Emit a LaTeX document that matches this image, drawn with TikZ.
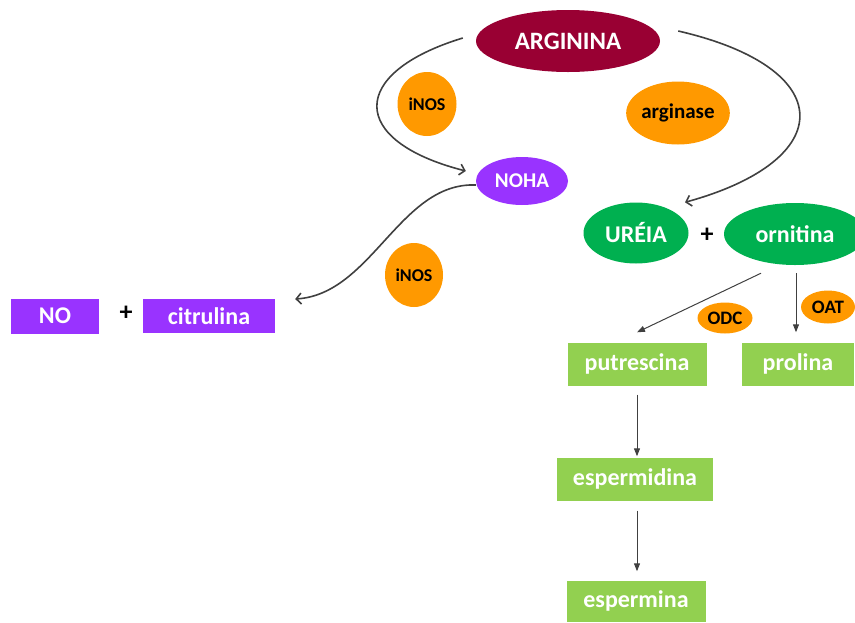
\documentclass[tikz,border=0pt]{standalone}
\usepackage{fontspec}
\setmainfont{Carlito}
\usetikzlibrary{shapes.geometric,arrows.meta}
\definecolor{vinho}{HTML}{990033}
\definecolor{laranja}{HTML}{FF9900}
\definecolor{roxo}{HTML}{9933FF}
\definecolor{verde}{HTML}{00B050}
\definecolor{verdeclaro}{HTML}{92D050}
\definecolor{cinza}{HTML}{404040}
\tikzset{
    metab/.style={ellipse, inner sep=0pt, text=white, font=\bfseries\fontsize{24}{28}\selectfont},
    caixa/.style={rectangle, inner sep=0pt, text=white, font=\bfseries\fontsize{24}{28}\selectfont},
    enzima/.style={ellipse, fill=laranja, inner sep=0pt, text=black, font=\bfseries\fontsize{18}{20}\selectfont},
    mais/.style={inner sep=0pt, font=\bfseries\fontsize{26}{28}\selectfont},
    curva/.style={draw=cinza, line width=1.6pt, -{Straight Barb[length=5pt,width=11pt]}},
    seta/.style={draw=cinza, line width=1pt, -{Triangle[length=8pt,width=6pt]}},
}
\begin{document}
\begin{tikzpicture}[x=1pt, y=-1pt]
        \useasboundingbox (0,0) rectangle (855,622);
        \node[metab, fill=vinho, minimum width=184pt, minimum height=62pt, font=\bfseries\fontsize{25}{28}\selectfont] (arg) at (568,41) {ARGININA};
        \node[enzima, minimum width=59pt, minimum height=64pt] (inos1) at (427,104) {iNOS};
        \node[enzima, minimum width=100pt, minimum height=63pt, font=\bfseries\fontsize{21}{24}\selectfont] (argase) at (678,113) {arginase};
        \node[metab, fill=roxo, minimum width=92pt, minimum height=48pt, font=\bfseries\fontsize{21}{24}\selectfont] (noha) at (522,181) {NOHA};
        \node[metab, fill=verde, minimum width=105pt, minimum height=61pt] (ure) at (636,233) {URÉIA};
        \node[mais] (mais1) at (707,235) {+};
        \node[metab, fill=verde, minimum width=142pt, minimum height=62pt] (orn) at (795,234) {ornitina};
        \node[enzima, minimum width=58pt, minimum height=64pt] (inos2) at (414,275) {iNOS};
        \node[caixa, fill=roxo, minimum width=88pt, minimum height=35pt] (no) at (55,316) {NO};
        \node[mais] (mais2) at (126,313) {+};
        \node[caixa, fill=roxo, minimum width=132pt, minimum height=34pt] (cit) at (209,316) {citrulina};
        \node[enzima, minimum width=55pt, minimum height=31pt, font=\bfseries\fontsize{19}{20}\selectfont] (odc) at (725,318) {ODC};
        \node[enzima, minimum width=54pt, minimum height=33pt, font=\bfseries\fontsize{19}{20}\selectfont] (oat) at (828,307) {OAT};
        \node[caixa, fill=verdeclaro, minimum width=139pt, minimum height=43pt] (put) at (637,364) {putrescina};
        \node[caixa, fill=verdeclaro, minimum width=112pt, minimum height=43pt] (pro) at (798,364) {prolina};
        \node[caixa, fill=verdeclaro, minimum width=156pt, minimum height=43pt] (espd) at (635,479) {espermidina};
        \node[caixa, fill=verdeclaro, minimum width=139pt, minimum height=41pt] (espm) at (636,601) {espermina};

        \draw[curva] ([xshift=-13pt,yshift=3pt]arg.west) .. controls (348,73) and (348,141) .. ([xshift=-10pt,yshift=10pt]noha.west);
        \draw[curva] ([xshift=18pt,yshift=10pt]arg.east) .. controls (839,68) and (839,160) .. ([xshift=49pt,yshift=0pt]ure.north);
        \draw[curva] ([yshift=-4pt]noha.west) .. controls (400,182) and (372,294) .. ([xshift=20pt,yshift=17pt]cit.east);
        \draw[seta] ([xshift=-34pt,yshift=-8pt]orn.south) -- ([yshift=10pt]put.north);
        \draw[seta] ([xshift=1pt,yshift=-8pt]orn.south) -- ([xshift=1pt,yshift=10pt]pro.north -| orn.south);
        \draw[seta] ([yshift=-9pt]put.south) -- ([yshift=1pt]espd.north -| put.south);
        \draw[seta] ([yshift=-10pt]espd.south -| put.south) -- ([yshift=9pt]espm.north -| put.south);
\end{tikzpicture}
\end{document}
